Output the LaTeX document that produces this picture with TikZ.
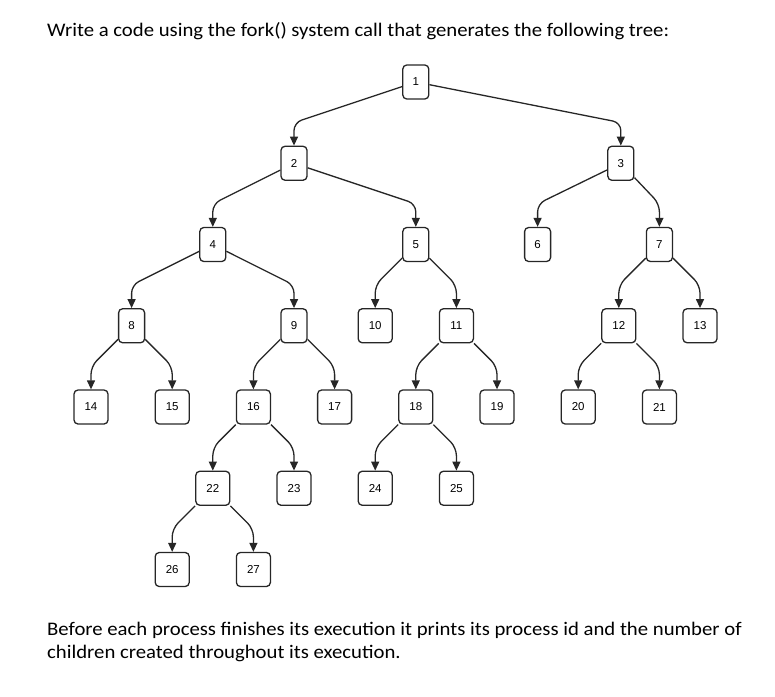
\documentclass[tikz,border=0pt]{standalone}
\usepackage{fontspec}
\setmainfont{Carlito}
\newfontfamily\digitfont{Liberation Sans}
\usetikzlibrary{arrows.meta}

\tikzset{
  proc/.style={draw=black!85, line width=1.3pt, rounded corners=4pt,
    minimum width=26pt, minimum height=34pt, inner sep=0pt,
    font=\digitfont\fontsize{11.5}{12}\selectfont},
  wide/.style={minimum width=34pt},
  edge/.style={line width=1.3pt, black!85, rounded corners=8pt,
    -{Triangle[length=9pt,width=8pt]}},
  prose/.style={anchor=base west, inner sep=0pt, align=left,
    font=\fontsize{19.2}{23.4}\selectfont}
}

\begin{document}
\begin{tikzpicture}[x=40.6pt,y=-81.25pt]
  \useasboundingbox (-91pt,82pt) rectangle (684pt,-614pt);
  % question text
  \node[prose] (task) at (-44pt,45.3pt)
    {\scalebox{1.08}[1]{Write a code using the fork() system call that generates the following tree:}};
  % process tree
  \node[proc] (n1) at (8,0) {1};
  \node[proc] (n2) at (5,1) {2};
  \node[proc] (n3) at (13.05,1) {3};
  \node[proc] (n4) at (3,2) {4};
  \node[proc] (n5) at (8,2) {5};
  \node[proc] (n6) at (11,2) {6};
  \node[proc] (n7) at (14,2) {7};
  \node[proc] (n8) at (1,3) {8};
  \node[proc] (n9) at (5,3) {9};
  \node[proc,wide] (n10) at (7,3) {10};
  \node[proc,wide] (n11) at (9,3) {11};
  \node[proc,wide] (n12) at (13,3) {12};
  \node[proc,wide] (n13) at (15,3) {13};
  \node[proc,wide] (n14) at (0,4) {14};
  \node[proc,wide] (n15) at (2,4) {15};
  \node[proc,wide] (n16) at (4,4) {16};
  \node[proc,wide] (n17) at (6,4) {17};
  \node[proc,wide] (n18) at (8,4) {18};
  \node[proc,wide] (n19) at (10,4) {19};
  \node[proc,wide] (n20) at (12,4) {20};
  \node[proc,wide] (n21) at (14,4) {21};
  \node[proc,wide] (n22) at (3,5) {22};
  \node[proc,wide] (n23) at (5,5) {23};
  \node[proc,wide] (n24) at (7,5) {24};
  \node[proc,wide] (n25) at (9,5) {25};
  \node[proc,wide] (n26) at (2,6) {26};
  \node[proc,wide] (n27) at (4,6) {27};
  \foreach \p/\c in {1/2,1/3,2/4,2/5,3/6,3/7,4/8,4/9,5/10,5/11,7/12,7/13,
      8/14,8/15,9/16,9/17,11/18,11/19,12/20,12/21,16/22,16/23,18/24,18/25,
      22/26,22/27}
    \draw[edge] (n\p) -- ([yshift=23pt]n\c.north) -- (n\c);
  % note below the tree
  \node[prose] (note) at (-44pt,-576.7pt)
    {\scalebox{1.08}[1]{Before each process finishes its execution it prints its process id and the number of}\\
     \scalebox{1.08}[1]{children created throughout its execution.}};
\end{tikzpicture}
\end{document}
